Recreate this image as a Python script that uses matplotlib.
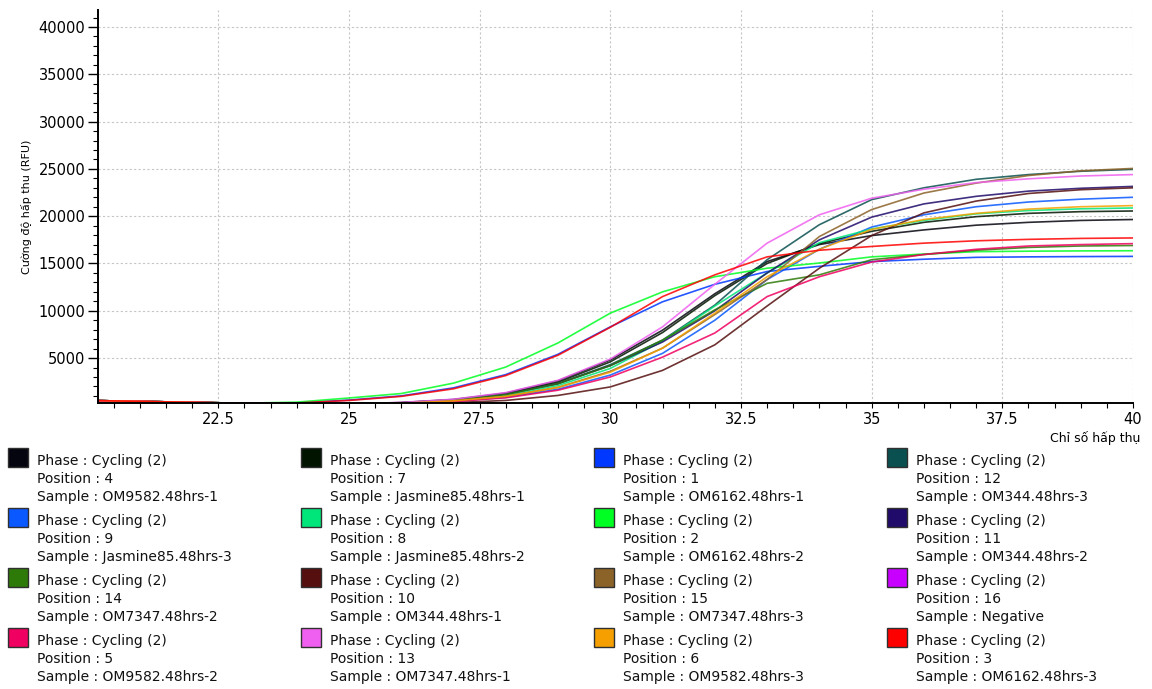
import matplotlib
matplotlib.use("Agg")
import matplotlib.pyplot as plt
from matplotlib.patches import Rectangle
from matplotlib.ticker import MultipleLocator

# Amplification curves, cycles 20..40 (RFU)
cycles = list(range(20, 41))

pos4_om9582_1 = [520, 420, 320, 220, 120, 150, 300, 620, 1300, 2600, 4800, 7950, 11800, 15200, 17000, 17950, 18550, 19050, 19350, 19550, 19650]
pos7_jas85_1 = [520, 420, 320, 220, 120, 140, 280, 590, 1250, 2450, 4600, 7700, 11600, 15000, 17100, 18400, 19350, 19950, 20300, 20480, 20550]
pos1_om6162_1 = [520, 420, 320, 220, 260, 560, 1000, 1850, 3250, 5400, 8300, 10950, 12800, 14150, 14700, 15200, 15450, 15650, 15700, 15730, 15750]
pos12_om344_3 = [520, 420, 320, 220, 120, 130, 260, 560, 1150, 2300, 4300, 6900, 10600, 15400, 19100, 21750, 23000, 23900, 24400, 24750, 24950]
pos9_jas85_3 = [520, 420, 320, 220, 110, 100, 200, 430, 850, 1700, 3200, 5500, 9000, 13300, 16500, 18850, 20150, 21000, 21500, 21800, 22000]
pos8_jas85_2 = [520, 420, 320, 220, 120, 120, 240, 520, 1050, 2100, 3900, 6800, 10500, 14000, 17200, 18650, 19550, 20250, 20600, 20780, 20870]
pos2_om6162_2 = [520, 420, 320, 230, 340, 780, 1250, 2350, 4050, 6600, 9750, 12000, 13600, 14500, 15050, 15700, 16000, 16250, 16300, 16330, 16350]
pos11_om344_2 = [520, 420, 320, 220, 120, 130, 260, 560, 1200, 2300, 4200, 6700, 10000, 14000, 17500, 19900, 21300, 22100, 22650, 22950, 23150]
pos14_om7347_2 = [520, 420, 320, 220, 120, 130, 260, 560, 1150, 2300, 4200, 6900, 10100, 12900, 13800, 15400, 15950, 16400, 16700, 16850, 16900]
pos10_om344_1 = [520, 420, 320, 220, 100, 80, 130, 290, 520, 1050, 1950, 3700, 6400, 10500, 14500, 17950, 20350, 21600, 22400, 22800, 23000]
pos15_om7347_3 = [520, 420, 320, 220, 110, 110, 220, 470, 950, 1900, 3600, 6050, 9600, 13300, 17850, 20700, 22450, 23500, 24300, 24800, 25050]
pos16_negative = [500, 400, 300, 200, 100, 60, 50, 50, 50, 50, 50, 50, 60, 60, 60, 60, 60, 60, 60, 60, 60]
pos5_om9582_2 = [520, 420, 320, 220, 110, 100, 180, 400, 800, 1600, 3000, 5100, 7650, 11500, 13600, 15150, 15950, 16500, 16850, 17000, 17100]
pos13_om7347_1 = [520, 420, 320, 220, 120, 160, 310, 650, 1350, 2650, 4900, 8300, 12800, 17150, 20150, 21900, 22850, 23550, 23950, 24250, 24400]
pos6_om9582_3 = [520, 420, 320, 220, 110, 110, 220, 470, 950, 1900, 3500, 6050, 9750, 13600, 16500, 18600, 19650, 20300, 20750, 21000, 21120]
pos3_om6162_3 = [520, 420, 320, 220, 250, 520, 950, 1750, 3150, 5300, 8250, 11500, 13800, 15700, 16400, 16800, 17150, 17400, 17550, 17650, 17700]

# Legend entries, in row-major order (4 columns x 4 rows)
positions = [4, 7, 1, 12, 9, 8, 2, 11, 14, 10, 15, 16, 5, 13, 6, 3]
samples = ["OM9582.48hrs-1", "Jasmine85.48hrs-1", "OM6162.48hrs-1", "OM344.48hrs-3",
           "Jasmine85.48hrs-3", "Jasmine85.48hrs-2", "OM6162.48hrs-2", "OM344.48hrs-2",
           "OM7347.48hrs-2", "OM344.48hrs-1", "OM7347.48hrs-3", "Negative",
           "OM9582.48hrs-2", "OM7347.48hrs-1", "OM9582.48hrs-3", "OM6162.48hrs-3"]
colors = ["#05050f", "#001400", "#0038ff", "#0a5050",
          "#0a58ff", "#00e67a", "#00ff22", "#200a6a",
          "#2e7a08", "#550f0f", "#8b6228", "#c800ff",
          "#f00060", "#f060f0", "#f5a000", "#ff0000"]
series = [pos4_om9582_1, pos7_jas85_1, pos1_om6162_1, pos12_om344_3,
          pos9_jas85_3, pos8_jas85_2, pos2_om6162_2, pos11_om344_2,
          pos14_om7347_2, pos10_om344_1, pos15_om7347_3, pos16_negative,
          pos5_om9582_2, pos13_om7347_1, pos6_om9582_3, pos3_om6162_3]

W, H = 1152, 689
fig = plt.figure(figsize=(W / 100, H / 100), dpi=100)
ax = fig.add_axes([98 / W, 1 - 403 / H, (1133 - 98) / W, (403 - 10) / H])

for vals, col in zip(series, colors):
    ax.plot(cycles, vals, color=col, lw=1.2, alpha=0.85, solid_joinstyle="round")

ax.set_xlim(20.2, 40)
ax.set_ylim(250, 41800)
ax.xaxis.set_major_locator(MultipleLocator(2.5))
ax.xaxis.set_minor_locator(MultipleLocator(0.5))
ax.yaxis.set_major_locator(MultipleLocator(5000))
ax.yaxis.set_minor_locator(MultipleLocator(1000))
ax.xaxis.set_major_formatter(plt.FuncFormatter(lambda v, p: f"{v:g}"))
ax.yaxis.set_major_formatter(plt.FuncFormatter(lambda v, p: f"{int(v)}"))

for s in ("top", "right"):
    ax.spines[s].set_visible(False)
for s in ("left", "bottom"):
    ax.spines[s].set_linewidth(1.4)
    ax.spines[s].set_color("black")
    ax.spines[s].set_zorder(3)

ax.grid(True, which="major", color="#c6c6c6", linestyle=(0, (2, 2)), linewidth=0.8)
ax.tick_params(axis="y", which="major", length=7, width=1, direction="out", labelsize=10.5, pad=2)
ax.tick_params(axis="y", which="minor", length=3.5, width=0.8, direction="out")
ax.tick_params(axis="x", which="major", length=3.5, width=0.8, direction="out", labelsize=10.5, pad=3)
ax.tick_params(axis="x", which="minor", length=3.5, width=0.8, direction="out")

ax.set_ylabel("Cường độ hấp thu (RFU)", fontsize=8,
              family=["Liberation Sans Narrow", "DejaVu Sans"], labelpad=5)
fig.text(1140 / W, 1 - 438 / H, "Chỉ số hấp thụ", ha="right", va="center", fontsize=9)

# Custom legend grid
col_x = [8, 301, 594, 887]
row_y = [448, 508, 568, 628]
for i, (p, smp, col) in enumerate(zip(positions, samples, colors)):
    x0 = col_x[i % 4]
    y0 = row_y[i // 4]
    fig.patches.append(Rectangle((x0 / W, 1 - (y0 + 19) / H), 20 / W, 19 / H,
                                 transform=fig.transFigure, facecolor=col,
                                 edgecolor="#303030", linewidth=1))
    tx = (x0 + 29) / W
    fig.text(tx, 1 - (y0 + 13) / H, "Phase : Cycling (2)", fontsize=10, va="center", ha="left", color="#111111")
    fig.text(tx, 1 - (y0 + 31) / H, f"Position : {p}", fontsize=10, va="center", ha="left", color="#111111")
    fig.text(tx, 1 - (y0 + 49) / H, f"Sample : {smp}", fontsize=10, va="center", ha="left", color="#111111")

fig.savefig("out.png", dpi=100)
